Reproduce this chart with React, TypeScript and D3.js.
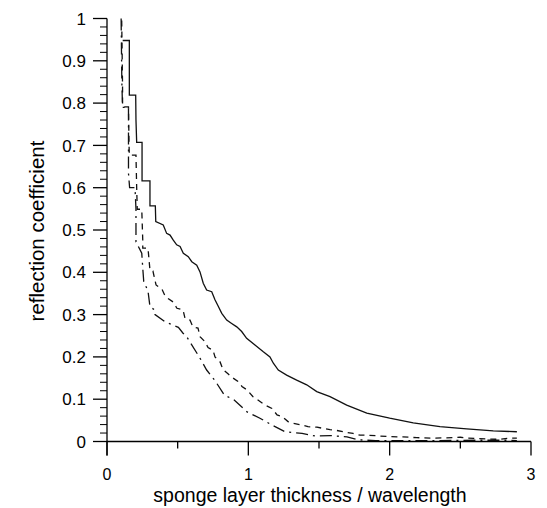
import React from "react";
import * as d3 from "d3";

const xTicksMajor = [0, 1, 2, 3];
const xTicksMinor = [0.5, 1.5, 2.5];
const yTicksMajor = [0, 0.1, 0.2, 0.3, 0.4, 0.5, 0.6, 0.7, 0.8, 0.9, 1];
const yTickLabels = ["0", "0.1", "0.2", "0.3", "0.4", "0.5", "0.6", "0.7", "0.8", "0.9", "1"];

// solid curve
const solidX = [0.111, 0.158, 0.158, 0.203, 0.205, 0.21, 0.248, 0.248, 0.304, 0.304, 0.342, 0.345, 0.398, 0.422, 0.446, 0.469, 0.493, 0.517, 0.54, 0.575, 0.6, 0.635, 0.658, 0.681, 0.705, 0.741, 0.764, 0.788, 0.812, 0.847, 0.882, 0.918, 0.953, 0.988, 1.047, 1.106, 1.153, 1.177, 1.212, 1.271, 1.342, 1.413, 1.484, 1.578, 1.696, 1.838, 2.0, 2.167, 2.356, 2.545, 2.733, 2.9];
const solidY = [0.948, 0.948, 0.819, 0.819, 0.76, 0.707, 0.707, 0.616, 0.616, 0.557, 0.557, 0.52, 0.512, 0.492, 0.488, 0.476, 0.465, 0.461, 0.445, 0.437, 0.425, 0.417, 0.401, 0.374, 0.358, 0.354, 0.335, 0.319, 0.303, 0.287, 0.279, 0.271, 0.26, 0.244, 0.228, 0.212, 0.2, 0.185, 0.169, 0.157, 0.145, 0.134, 0.118, 0.106, 0.086, 0.067, 0.055, 0.044, 0.035, 0.03, 0.025, 0.023];

// dashed curve
const dashedX = [0.104, 0.106, 0.11, 0.11, 0.152, 0.156, 0.158, 0.205, 0.21, 0.214, 0.246, 0.253, 0.253, 0.29, 0.3, 0.304, 0.325, 0.347, 0.389, 0.41, 0.432, 0.467, 0.495, 0.538, 0.552, 0.587, 0.608, 0.644, 0.658, 0.693, 0.715, 0.75, 0.764, 0.8, 0.821, 0.856, 0.892, 0.927, 0.955, 0.991, 1.033, 1.068, 1.118, 1.167, 1.203, 1.238, 1.281, 1.316, 1.38, 1.422, 1.486, 1.528, 1.578, 1.627, 1.698, 1.741, 1.79, 1.84, 1.932, 1.981, 2.052, 2.094, 2.193, 2.307, 2.45, 2.5, 2.55, 2.7, 2.78, 2.85, 2.9];
const dashedY = [0.995, 0.945, 0.84, 0.791, 0.791, 0.7, 0.677, 0.677, 0.6, 0.549, 0.549, 0.476, 0.457, 0.457, 0.42, 0.405, 0.403, 0.37, 0.36, 0.345, 0.338, 0.33, 0.315, 0.311, 0.291, 0.287, 0.271, 0.268, 0.248, 0.236, 0.222, 0.216, 0.2, 0.188, 0.17, 0.16, 0.15, 0.142, 0.13, 0.122, 0.106, 0.098, 0.086, 0.078, 0.063, 0.059, 0.047, 0.043, 0.039, 0.035, 0.034, 0.031, 0.028, 0.026, 0.021, 0.019, 0.015, 0.015, 0.013, 0.012, 0.011, 0.011, 0.009, 0.008, 0.009, 0.01, 0.008, 0.006, 0.005, 0.008, 0.008];

// dash-dot curve
const dashDotX = [0.1, 0.105, 0.11, 0.152, 0.152, 0.16, 0.198, 0.205, 0.205, 0.246, 0.253, 0.26, 0.29, 0.304, 0.34, 0.34, 0.41, 0.505, 0.538, 0.56, 0.658, 0.705, 0.764, 0.83, 0.9, 0.991, 1.082, 1.167, 1.26, 1.38, 1.472, 1.578, 1.698, 1.781, 1.9, 2.3, 2.639, 2.83, 2.9];
const dashDotY = [1.0, 0.85, 0.79, 0.79, 0.634, 0.6, 0.6, 0.55, 0.472, 0.445, 0.41, 0.378, 0.356, 0.319, 0.31, 0.3, 0.283, 0.27, 0.256, 0.25, 0.197, 0.169, 0.144, 0.11, 0.098, 0.07, 0.055, 0.039, 0.023, 0.019, 0.013, 0.014, 0.011, 0.004, 0.002, 0.002, 0.003, 0.003, 0.002];

const W = 547;
const H = 508;
const x0 = 107, x1 = 531;
const yBottom = 441.5, yTop = 18.5;

export default function App() {
  const x = d3.scaleLinear().domain([0, 3]).range([x0, x1]);
  const y = d3.scaleLinear().domain([0, 1]).range([yBottom, yTop]);
  const line = d3
    .line<[number, number]>()
    .x((d) => x(d[0]))
    .y((d) => y(d[1]));
  const zip = (a: number[], b: number[]) => a.map((v, i) => [v, b[i]] as [number, number]);

  const yMinor = d3.range(0, 51).map((i) => i * 0.02).filter((v) => Math.abs(v * 10 - Math.round(v * 10)) > 1e-6);

  const font = "'Liberation Sans', Arial, Helvetica, sans-serif";
  const stroke = "#111";

  return (
    <svg
      width={W}
      height={H}
      style={{ position: "absolute", left: 0, top: 0, background: "#fff" }}
      fontFamily={font}
    >
      <rect x={0} y={0} width={W} height={H} fill="#fff" />
      {/* curves */}
      <path d={line(zip(solidX, solidY)) || ""} fill="none" stroke={stroke} strokeWidth={1.3} />
      <path d={line(zip(dashedX, dashedY)) || ""} fill="none" stroke={stroke} strokeWidth={1.3} strokeDasharray="6,5" />
      <path d={line(zip(dashDotX, dashDotY)) || ""} fill="none" stroke={stroke} strokeWidth={1.3} strokeDasharray="12,5,2,5" />

      {/* axes */}
      <line x1={x(0)} x2={x(3)} y1={y(0)} y2={y(0)} stroke="#000" strokeWidth={1.3} />
      <line x1={x(0)} x2={x(0)} y1={y(1)} y2={y(0) + 14} stroke="#000" strokeWidth={1.3} />
      {xTicksMajor.map((t) => (
        <line key={"xM" + t} x1={x(t)} x2={x(t)} y1={y(0)} y2={y(0) + 14} stroke="#000" strokeWidth={1.3} />
      ))}
      {xTicksMinor.map((t) => (
        <line key={"xm" + t} x1={x(t)} x2={x(t)} y1={y(0)} y2={y(0) + 7} stroke="#000" strokeWidth={1.3} />
      ))}
      {yTicksMajor.map((t) => (
        <line key={"yM" + t} x1={x(0) - 14} x2={x(0)} y1={y(t)} y2={y(t)} stroke="#000" strokeWidth={1.3} />
      ))}
      {yMinor.map((t, i) => (
        <line key={"ym" + i} x1={x(0) - 7} x2={x(0)} y1={y(t)} y2={y(t)} stroke="#000" strokeWidth={1} />
      ))}

      {/* tick labels */}
      {xTicksMajor.map((t) => (
        <text key={"xl" + t} x={x(t)} y={y(0) + 38} textAnchor="middle" fontSize={16} fill="#000">
          {String(t)}
        </text>
      ))}
      {yTicksMajor.map((t, i) => (
        <text key={"yl" + t} x={x(0) - 21} y={y(t)} dy="0.36em" textAnchor="end" fontSize={17} fill="#000">
          {yTickLabels[i]}
        </text>
      ))}

      {/* axis titles */}
      <text x={310} y={502} textAnchor="middle" fontSize={19.5} fill="#000">
        sponge layer thickness / wavelength
      </text>
      <text
        transform={`translate(44, 231) rotate(-90)`}
        textAnchor="middle"
        fontSize={20.5}
        fill="#000"
      >
        reflection coefficient
      </text>
    </svg>
  );
}
